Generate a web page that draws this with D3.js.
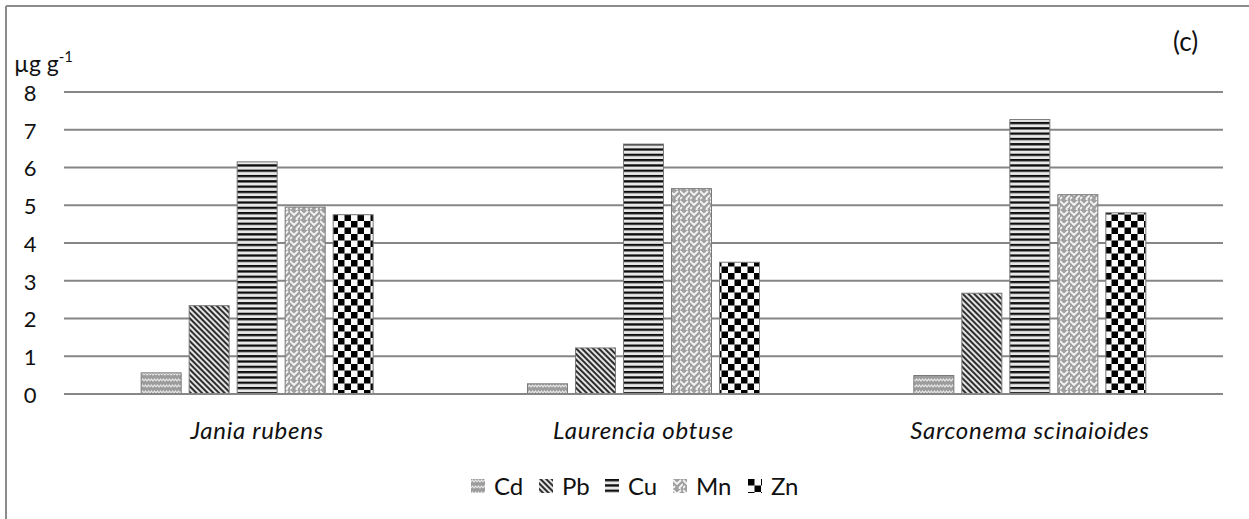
<!DOCTYPE html>
<html>
<head>
<meta charset="utf-8">
<script src="https://cdn.jsdelivr.net/npm/d3@7"></script>
<style>
  html, body { margin: 0; padding: 0; background: #fff; }
  svg { display: block; font-family: Lato, "Liberation Sans", sans-serif; }
</style>
</head>
<body>
<svg id="chart" width="1249" height="519"></svg>
<script>
// Heavy-metal concentrations (µg g-1) in three algae species
const species = ["Jania rubens", "Laurencia obtuse", "Sarconema scinaioides"];
const metals = ["Cd", "Pb", "Cu", "Mn", "Zn"];
const cdValues = [0.56, 0.27, 0.49];
const pbValues = [2.34, 1.22, 2.67];
const cuValues = [6.15, 6.62, 7.27];
const mnValues = [4.95, 5.44, 5.28];
const znValues = [4.75, 3.49, 4.80];
const yTicks = [0, 1, 2, 3, 4, 5, 6, 7, 8];
const unitLabel = "µg g";
const unitSup = "-1";
const panelLabel = "(c)";

const seriesValues = { Cd: cdValues, Pb: pbValues, Cu: cuValues, Mn: mnValues, Zn: znValues };

const svg = d3.select("#chart");
const defs = svg.append("defs");

// soft edge filter for the hatched bars
defs.append("filter").attr("id", "soft").attr("x", "-5%").attr("y", "-5%")
  .attr("width", "110%").attr("height", "110%")
  .append("feGaussianBlur").attr("stdDeviation", 0.6);

// fill patterns, one per metal
function pattern(id, w, h, attrs) {
  const p = defs.append("pattern").attr("id", id).attr("patternUnits", "userSpaceOnUse")
    .attr("width", w).attr("height", h);
  if (attrs) Object.entries(attrs).forEach(([k, v]) => p.attr(k, v));
  return p;
}
// Cd: small grey weave
{
  const p = pattern("pat-Cd", 6, 6);
  p.append("rect").attr("width", 6).attr("height", 6).attr("fill", "#9c9c9c");
  p.append("path").attr("d", "M0,3 L1.5,1 L3,3 L4.5,1 L6,3").attr("stroke", "#e6e6e6")
    .attr("stroke-width", 1.2).attr("fill", "none");
}
// Pb: dark diagonal stripes
{
  const p = pattern("pat-Pb", 4, 4, { patternTransform: "rotate(-45)" });
  p.append("rect").attr("width", 4).attr("height", 4).attr("fill", "#e4e4e4");
  p.append("rect").attr("width", 2).attr("height", 4).attr("fill", "#2e2e2e");
}
// Cu: horizontal black stripes
{
  const p = pattern("pat-Cu", 4, 5.3);
  p.append("rect").attr("width", 4).attr("height", 5.3).attr("fill", "#e8e8e8");
  p.append("rect").attr("y", 0).attr("width", 4).attr("height", 2.3).attr("fill", "#111");
}
// Mn: light grey herringbone
{
  const p = pattern("pat-Mn", 10, 10);
  p.append("rect").attr("width", 10).attr("height", 10).attr("fill", "#a0a0a0");
  p.append("path").attr("d", "M0,1 L4,5 L8,1 M0,9 L2,7 M6,9 L8,11 M4,5 L4,5 M6,9 L10,5")
    .attr("stroke", "#f4f4f4").attr("stroke-width", 1.8).attr("fill", "none");
}
// Zn: checkerboard
{
  const p = pattern("pat-Zn", 13, 13);
  p.append("rect").attr("width", 13).attr("height", 13).attr("fill", "#fafafa");
  p.append("rect").attr("x", 0).attr("y", 0).attr("width", 6.5).attr("height", 6.5).attr("fill", "#050505");
  p.append("rect").attr("x", 6.5).attr("y", 6.5).attr("width", 6.5).attr("height", 6.5).attr("fill", "#050505");
}

// frame lines
svg.append("line").attr("x1", 6).attr("y1", 6).attr("x2", 1249).attr("y2", 6)
  .attr("stroke", "#8c8c8c").attr("stroke-width", 2);
svg.append("line").attr("x1", 6).attr("y1", 6).attr("x2", 6).attr("y2", 519)
  .attr("stroke", "#8c8c8c").attr("stroke-width", 2);

// scales
const x = d3.scaleBand().domain(species).range([64, 1223]).padding(0);
const inner = d3.scaleBand().domain(metals).range([-116, 116]).paddingInner(1 / 6).paddingOuter(0);
const y = d3.scaleLinear().domain([0, 8]).range([394, 92]);

// gridlines
svg.append("g").selectAll("line").data(yTicks).join("line")
  .attr("x1", 64).attr("x2", 1223)
  .attr("y1", d => y(d)).attr("y2", d => y(d))
  .attr("stroke", "#868686").attr("stroke-width", 2);

// y axis labels
const yAxis = d3.axisLeft(y).tickValues(yTicks).tickSize(0).tickPadding(0);
const yg = svg.append("g").attr("transform", "translate(30,0)").call(yAxis);
yg.select(".domain").remove();
yg.selectAll("text").attr("text-anchor", "middle").attr("font-size", 22)
  .attr("fill", "#111").attr("font-family", "Lato, sans-serif").attr("dy", "0.38em");

// bars
const barData = [];
species.forEach((s, i) => metals.forEach(m => barData.push({ s, m, v: seriesValues[m][i] })));
svg.append("g").attr("filter", "url(#soft)").selectAll("rect").data(barData).join("rect")
  .attr("x", d => x(d.s) + x.bandwidth() / 2 + inner(d.m))
  .attr("width", inner.bandwidth())
  .attr("y", d => y(d.v))
  .attr("height", d => y(0) - y(d.v))
  .attr("fill", d => `url(#pat-${d.m})`)
  .attr("stroke", "#7a7a7a").attr("stroke-width", 1);

// redraw baseline over bars
svg.append("line").attr("x1", 64).attr("x2", 1223).attr("y1", y(0)).attr("y2", y(0))
  .attr("stroke", "#868686").attr("stroke-width", 2);

// category labels
const xAxis = d3.axisBottom(x).tickSize(0).tickPadding(0);
const xg = svg.append("g").attr("transform", "translate(0,439)").call(xAxis);
xg.select(".domain").remove();
xg.selectAll("text").attr("dy", 0).attr("font-size", 24).attr("font-style", "italic")
  .attr("letter-spacing", 0.7)
  .attr("fill", "#111").attr("font-family", "Lato, sans-serif");

// unit label
const unit = svg.append("text").attr("x", 14).attr("y", 72).attr("font-size", 23).attr("fill", "#111");
unit.append("tspan").text(unitLabel);
unit.append("tspan").attr("dy", -10).attr("font-size", 15).text(unitSup);

// panel label
svg.append("text").attr("x", 1173).attr("y", 51).attr("font-size", 26).attr("fill", "#111").text(panelLabel);

// legend
const legendX = [471, 539, 605, 673, 748];
const lg = svg.append("g").selectAll("g").data(metals).join("g")
  .attr("transform", (d, i) => `translate(${legendX[i]},479)`);
lg.append("rect").attr("width", 14).attr("height", 14).attr("fill", d => `url(#pat-${d})`)
  .attr("filter", "url(#soft)");
lg.append("text").attr("x", 23).attr("y", 16).attr("font-size", 24).attr("fill", "#111").text(d => d);
</script>
</body>
</html>
